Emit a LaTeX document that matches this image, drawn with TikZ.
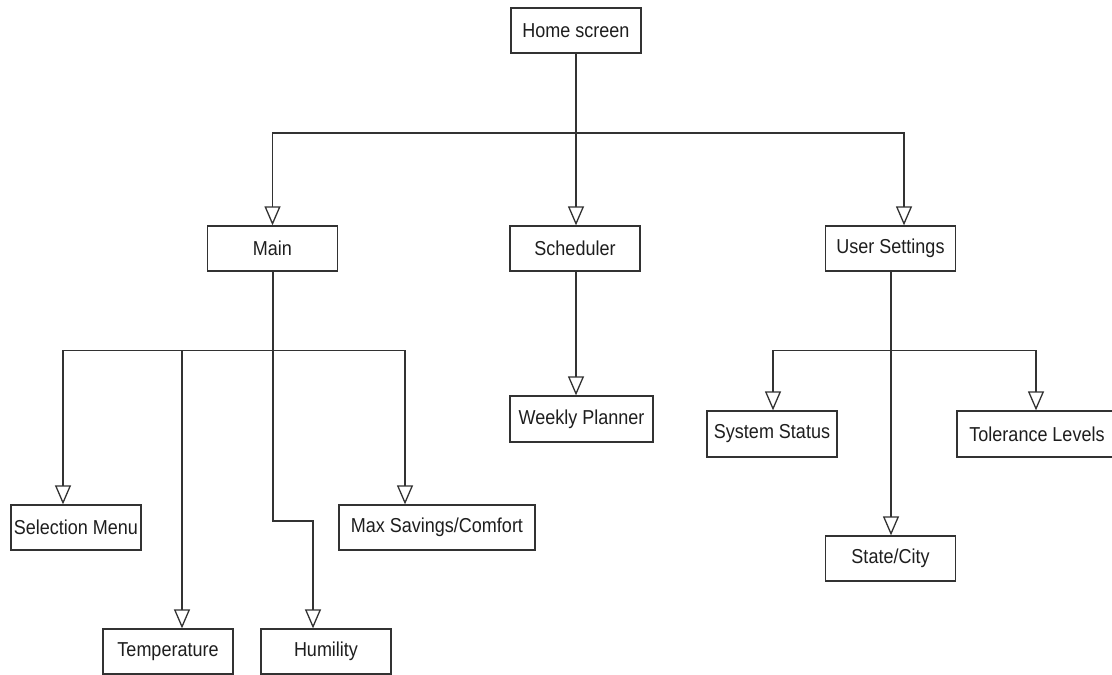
\documentclass[tikz,border=0pt]{standalone}
\usepackage{graphicx}
\usepackage{fontspec}
\setmainfont{Liberation Sans}
\usetikzlibrary{arrows.meta}
\definecolor{linec}{RGB}{50,50,50}
\definecolor{textc}{RGB}{30,30,30}
\newcommand{\tallt}[1]{\scalebox{1}[1.12]{#1}}
\begin{document}
\begin{tikzpicture}[x=1pt,y=-1pt,
  box/.style={draw=linec, line width=1.3pt, fill=white, minimum height=45pt,
    minimum width=130pt, inner sep=0pt, text=textc,
    font=\fontsize{18}{20}\selectfont},
  arr/.style={draw=linec, line width=1.3pt,
    -{Triangle[open, length=19pt, width=16pt]}},
  ln/.style={draw=linec, line width=1.3pt}]
\useasboundingbox (0,0) rectangle (1112,675);
\clip (0,0) rectangle (1112,675);
\fill[white] (0,0) rectangle (1112,675);

% nodes
\node[box] (home) at (576,30.5) {\tallt{Home screen}};
\node[box] (main) at (272.5,248.5) {\tallt{Main}};
\node[box] (sched) at (575,248.5) {\tallt{Scheduler}};
\node[box] (user) at (890.5,248.5) {\tallt{User Settings}};
\node[box, minimum width=143pt, minimum height=46pt] (weekly) at (581.5,419) {\tallt{Weekly Planner}};
\node[box] (selmenu) at (76,527.5) {\tallt{Selection Menu}};
\node[box, minimum width=196pt] (maxsav) at (437,527.5) {\tallt{Max Savings/Comfort}};
\node[box] (temp) at (168,651.5) {\tallt{Temperature}};
\node[box] (humil) at (326,651.5) {\tallt{Humility}};
\node[box, minimum height=46pt] (sysstat) at (772,434) {\tallt{System Status}};
\node[box, minimum width=160pt, minimum height=46pt] (tol) at (1037,434) {\tallt{Tolerance Levels}};
\node[box] (state) at (890.5,558.5) {\tallt{State/City}};

% level 1 bus
\coordinate (b1) at (576,133);
\draw[ln] (home.south) -- (b1);
\draw[arr] (b1) -| (main.north);
\draw[arr] (b1) -- ([xshift=1pt]sched.north);
\draw[arr] (b1) -| ([xshift=13.5pt]user.north);

% main children
\coordinate (b2) at (273,350.5);
\draw[ln] ([xshift=0.5pt]main.south) -- (b2);
\draw[arr] (b2) -| ([xshift=-13pt]selmenu.north);
\draw[arr] (b2) -| ([xshift=14pt]temp.north);
\draw[arr] (b2) -| ([xshift=-32pt]maxsav.north);
\coordinate (j1) at (273,521);
\coordinate (j2) at (313,521);
\draw[arr] (b2) -- (j1) -- (j2) -- ([xshift=-13pt]humil.north);

% scheduler child
\draw[arr] ([xshift=1pt]sched.south) -- ([xshift=-5.5pt]weekly.north);

% user settings children
\coordinate (b3) at (891,350.5);
\draw[ln] ([xshift=0.5pt]user.south) -- (b3);
\draw[arr] (b3) -| ([xshift=1pt]sysstat.north);
\draw[arr] (b3) -| ([xshift=-1pt]tol.north);
\draw[arr] (b3) -- ([xshift=0.5pt]state.north);
\end{tikzpicture}
\end{document}
